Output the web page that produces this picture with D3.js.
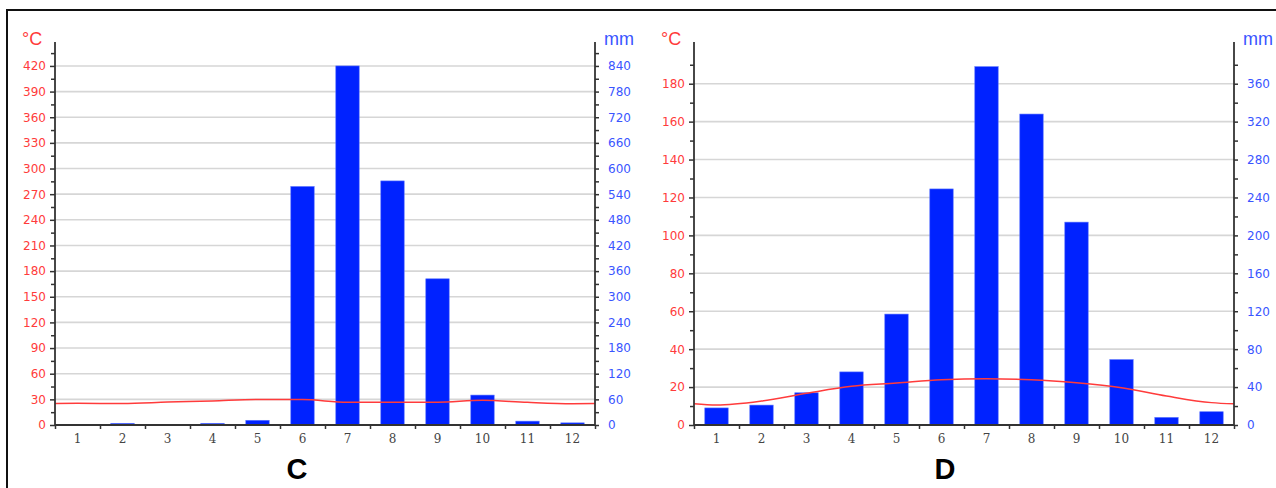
<!DOCTYPE html>
<html><head><meta charset="utf-8">
<script src="https://cdn.jsdelivr.net/npm/d3@7"></script>
<style>html,body{margin:0;padding:0;background:#fff;} svg{display:block;}</style>
</head><body>
<svg id="chart" width="1276" height="488"></svg>
<script>
const months = [1,2,3,4,5,6,7,8,9,10,11,12];
// Chart C
const tempC = [25.3, 25.2, 26.8, 28.2, 29.9, 29.8, 26.6, 26.6, 26.7, 28.9, 26.5, 25.0];
const precipC = [0, 4, 0, 4, 11, 558, 840, 571, 342, 70, 9, 5];
const ticksTempC = [0,30,60,90,120,150,180,210,240,270,300,330,360,390,420];
const ticksPrecipC = [0,60,120,180,240,300,360,420,480,540,600,660,720,780,840];
// Chart D
const tempD = [10.5, 12.6, 16.7, 20.4, 22.1, 23.9, 24.4, 23.9, 22.3, 19.7, 15.3, 11.8];
const precipD = [18, 21, 34, 56, 117, 249, 378, 328, 214, 69, 8, 14];
const ticksTempD = [0,20,40,60,80,100,120,140,160,180];
const ticksPrecipD = [0,40,80,120,160,200,240,280,320,360];

const svg = d3.select("#chart");
const RED = "#ff3b3b", BLUE = "#3a55ff", BAR = "#0022ff", AX = "#333";

svg.append("path").attr("d","M7,488V10H1276").attr("fill","none").attr("stroke","#111").attr("stroke-width",2);

function drawChart(cfg){
  const {x0, x1, top, bottom, tMax, temp, precip, tTicks, pTicks, minorStep, title, titleX} = cfg;
  const g = svg.append("g");
  const y = d3.scaleLinear().domain([0, tMax]).range([bottom, top]);
  const yR = d3.scaleLinear().domain([0, tMax*2]).range([bottom, top]);
  const xb = d3.scaleBand().domain(months).range([x0, x1]).paddingInner(0.48).paddingOuter(0.24);
  const xl = d3.scaleLinear().domain([0,12]).range([x0, x1]);

  // gridlines
  g.append("g").selectAll("line").data(tTicks.filter(d=>d>0)).join("line")
    .attr("x1", x0).attr("x2", x1).attr("y1", d=>y(d)).attr("y2", d=>y(d))
    .attr("stroke","#d6d6d6").attr("stroke-width",1.6);

  // bars
  g.append("g").selectAll("rect").data(precip.map((v,i)=>({m:months[i],v}))).join("rect")
    .attr("x", d=>xb(d.m)).attr("width", xb.bandwidth())
    .attr("y", d=>yR(d.v)).attr("height", d=>bottom - yR(d.v))
    .attr("fill", BAR).attr("stroke","#5a74ff").attr("stroke-width",0.6);

  // temperature line with wrap-around edge values
  const edge = (temp[0] + temp[11]) / 2;
  const pts = [[x0, edge]].concat(temp.map((v,i)=>[xb(months[i]) + xb.bandwidth()/2, v])).concat([[x1, edge]]);
  g.append("path").datum(pts)
    .attr("d", d3.line().x(d=>d[0]).y(d=>y(d[1])).curve(d3.curveMonotoneX))
    .attr("fill","none").attr("stroke", RED).attr("stroke-width",1.5);

  const minor = d3.range(minorStep, tMax, minorStep*2);
  // left axis
  const la = g.append("g").attr("transform",`translate(${x0},0)`)
    .call(d3.axisLeft(y).tickValues(tTicks).tickSize(5).tickPadding(4));
  g.append("g").attr("transform",`translate(${x0},0)`)
    .call(d3.axisLeft(y).tickValues(minor).tickSize(4).tickFormat(""));
  // right axis
  const ra = g.append("g").attr("transform",`translate(${x1},0)`)
    .call(d3.axisRight(yR).tickValues(pTicks).tickSize(4).tickPadding(9));
  g.append("g").attr("transform",`translate(${x1},0)`)
    .call(d3.axisRight(yR).tickValues(minor.map(d=>d*2)).tickSize(4).tickFormat(""));
  // x axis boundaries
  g.append("g").attr("transform",`translate(0,${bottom})`)
    .call(d3.axisBottom(xl).tickValues(d3.range(0,13)).tickSize(4).tickFormat(""));
  const xa = g.append("g").attr("transform",`translate(0,${bottom})`)
    .call(d3.axisBottom(xb).tickSize(0).tickPadding(9));

  g.selectAll(".tick line").attr("stroke", AX).attr("stroke-width",1.5);
  g.selectAll(".domain").remove();
  g.append("line").attr("x1",x0).attr("x2",x0).attr("y1",top).attr("y2",bottom).attr("stroke",AX).attr("stroke-width",1.8);
  g.append("line").attr("x1",x1).attr("x2",x1).attr("y1",top).attr("y2",bottom).attr("stroke",AX).attr("stroke-width",1.8);
  g.append("line").attr("x1",x0).attr("x2",x1).attr("y1",bottom).attr("y2",bottom).attr("stroke",AX).attr("stroke-width",1.8);

  g.selectAll("text").attr("font-family","DejaVu Sans").attr("font-size",12);
  la.selectAll("text").attr("fill", RED);
  ra.selectAll("text").attr("fill", BLUE);
  xa.selectAll("text").attr("fill","#444").attr("font-family","DejaVu Serif").attr("font-size",12);

  g.append("text").attr("x", x0-33).attr("y", top+3).text("°C")
    .attr("fill", RED).attr("font-family","Liberation Sans, Arial").attr("font-size",18);
  g.append("text").attr("x", x1+9).attr("y", top+3).text("mm")
    .attr("fill", BLUE).attr("font-family","Liberation Sans, Arial").attr("font-size",18);
  g.append("text").attr("x", titleX).attr("y", 479).attr("text-anchor","middle").text(title)
    .attr("fill","#000").attr("font-family","Liberation Sans, Arial").attr("font-weight","bold").attr("font-size",29);
}

drawChart({x0:55, x1:595, top:42, bottom:425, tMax:448, temp:tempC, precip:precipC,
  tTicks:ticksTempC, pTicks:ticksPrecipC, minorStep:15, title:"C", titleX:297});
drawChart({x0:694, x1:1234, top:42, bottom:425, tMax:202, temp:tempD, precip:precipD,
  tTicks:ticksTempD, pTicks:ticksPrecipD, minorStep:10, title:"D", titleX:945});
</script>
</body></html>
